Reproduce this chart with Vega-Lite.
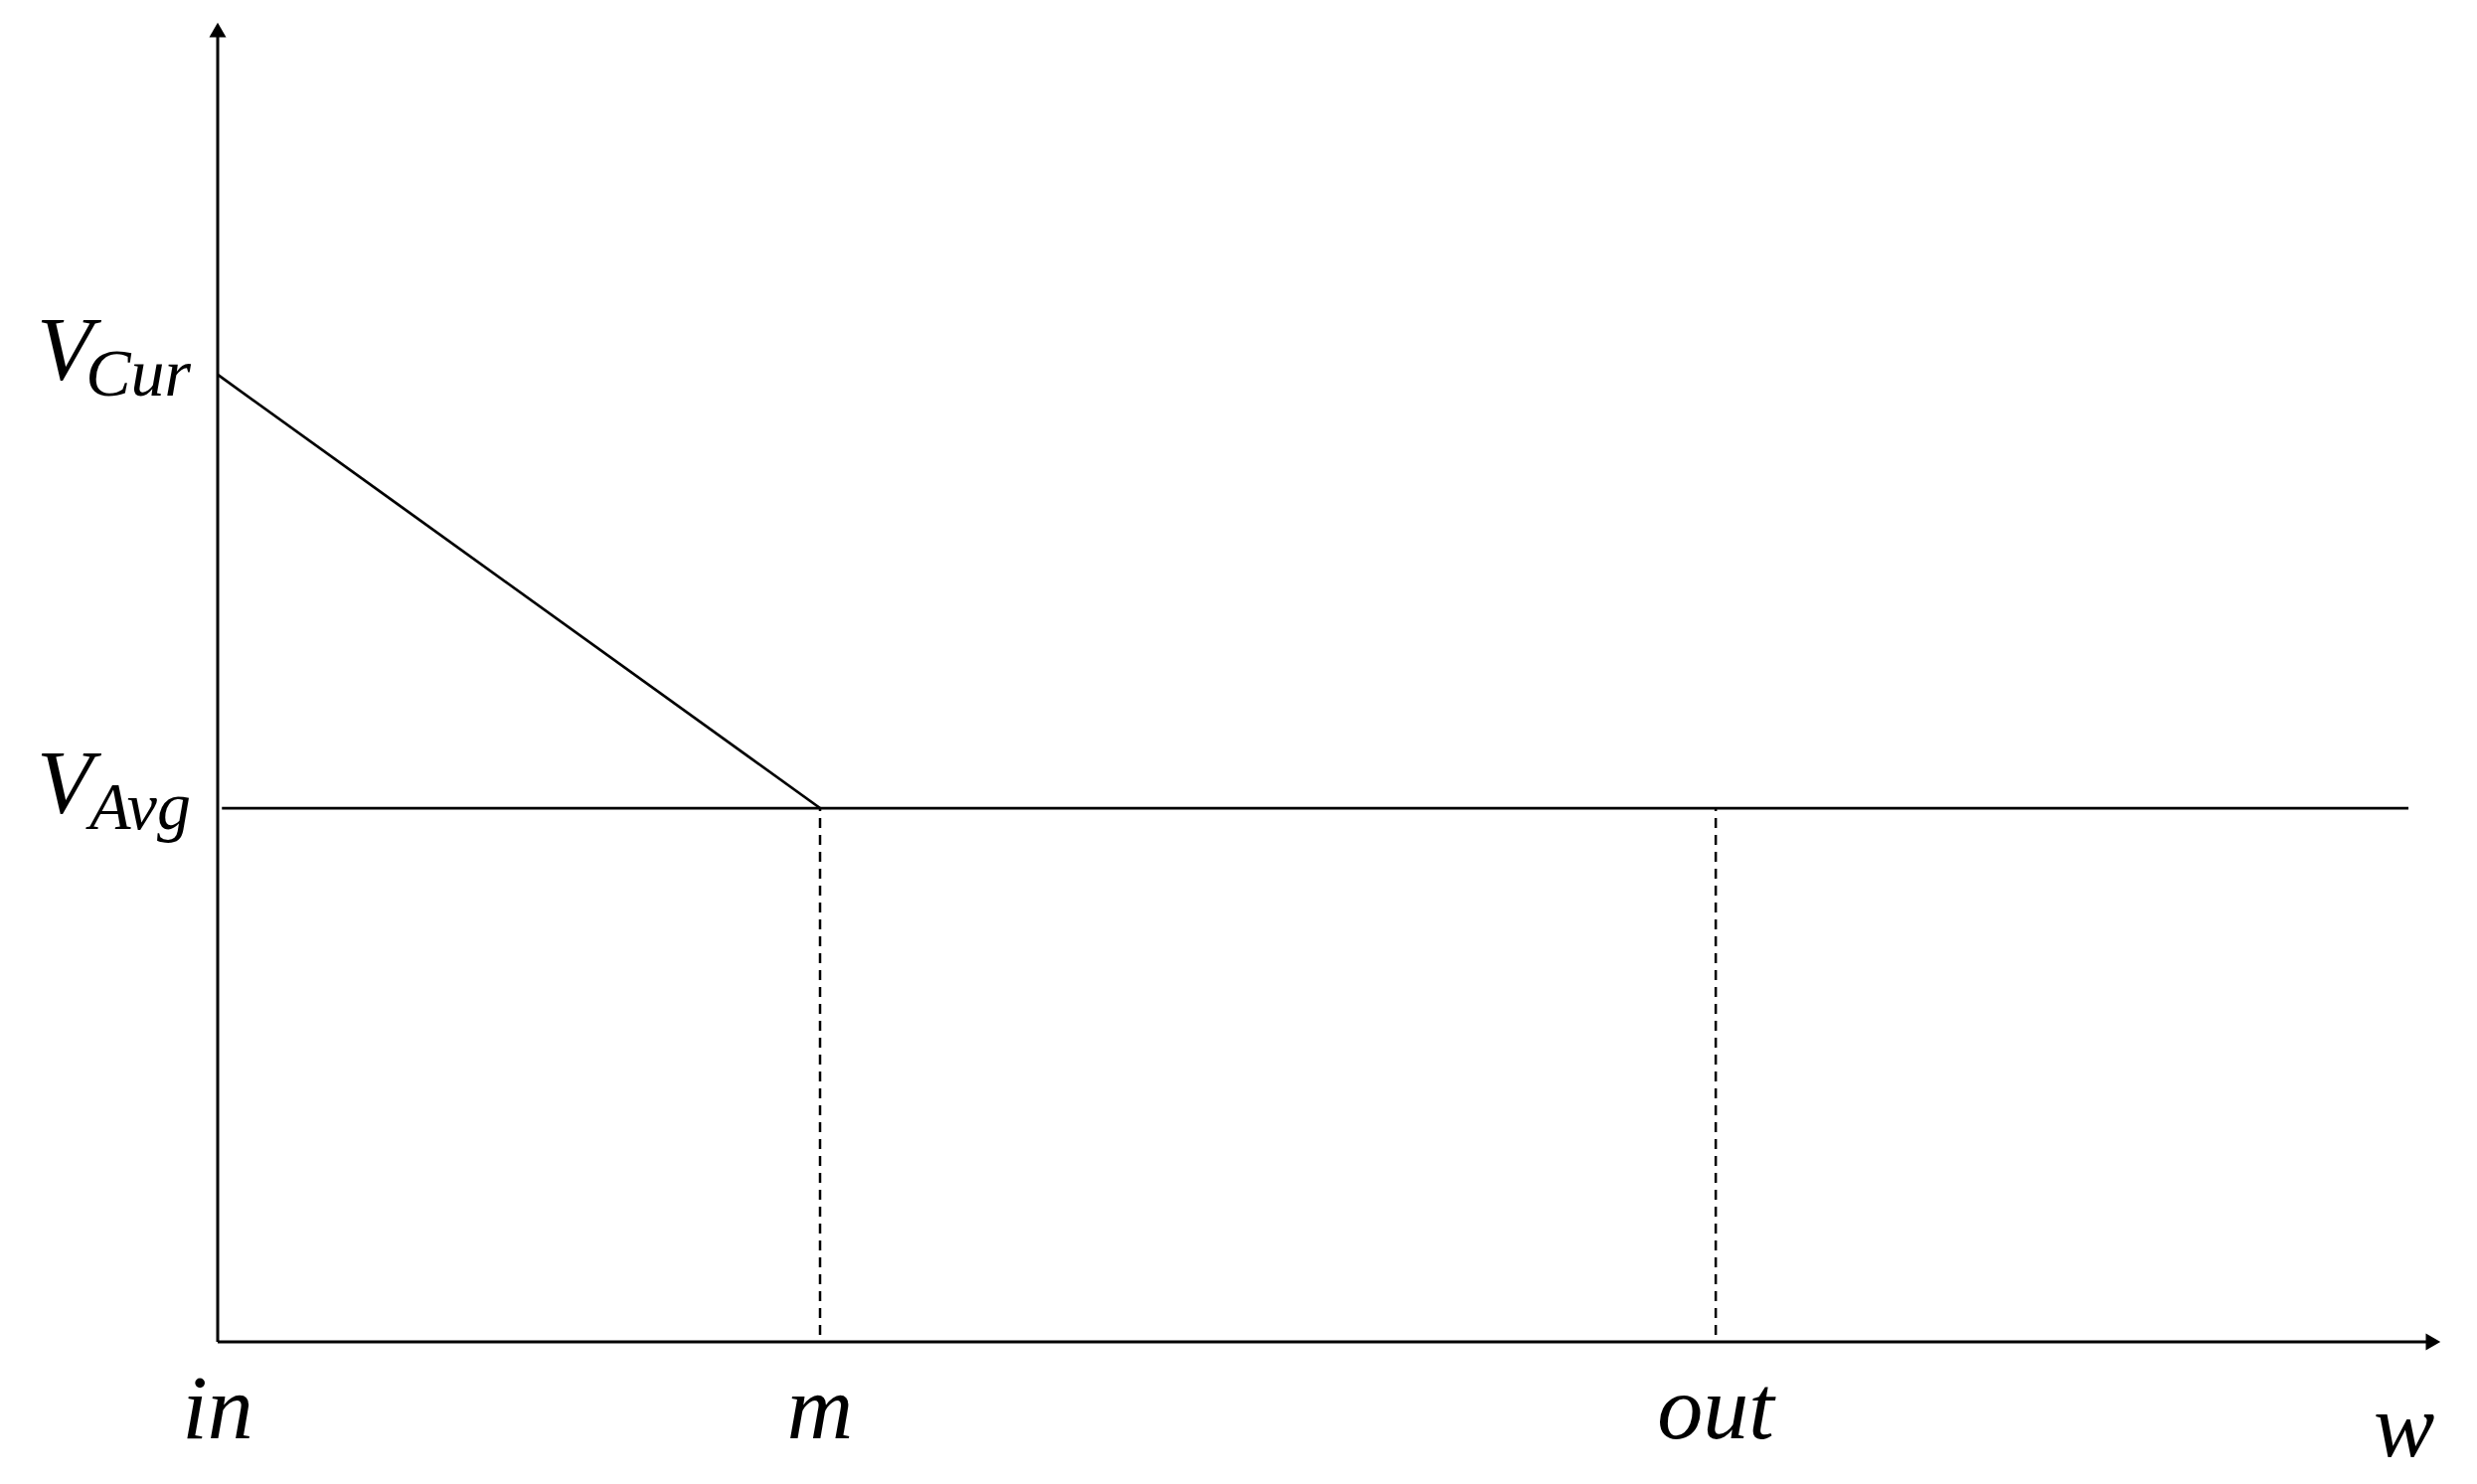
{
  "$schema": "https://vega.github.io/schema/vega-lite/v6.json",
  "width": 2492,
  "height": 1493,
  "autosize": {"type": "fit", "contains": "padding"},
  "padding": 0,
  "background": "white",
  "config": {"view": {"stroke": null}},
  "datasets": {
    "axes": [{"w": 0, "v": 0, "w2": 0, "v2": 24.58}, {"w": 0, "v": 0, "w2": 36.78, "v2": 0}],
    "arrows": [{"w": 0, "v": 24.58, "shape": "triangle-up"}, {"w": 36.78, "v": 0, "shape": "triangle-right"}],
    "curve": [{"w": 0, "v": 18.12, "w2": 10, "v2": 10}, {"w": 0.07, "v": 10, "w2": 36.37, "v2": 10}],
    "guides": [{"w": 10, "v": 0.13, "v2": 10}, {"w": 24.87, "v": 0.13, "v2": 10}],
    "xlabels": [{"w": 0, "v": 0, "label": "in"}, {"w": 10, "v": 0, "label": "m"}, {"w": 24.87, "v": 0, "label": "out"}],
    "wlabel": [{"w": 36.3, "v": 0, "label": "w"}],
    "vlabels": [{"w": 0, "v": 18.12, "main": "V", "sub": "Cur"}, {"w": 0, "v": 10, "main": "V", "sub": "Avg"}]
  },
  "layer": [
    {
      "data": {"name": "axes"},
      "mark": {"type": "rule", "color": "black", "strokeWidth": 3},
      "encoding": {
        "x": {"field": "w", "type": "quantitative", "scale": {"domain": [-3.614, 37.508], "nice": false, "zero": false}, "axis": null},
        "y": {"field": "v", "type": "quantitative", "scale": {"domain": [-2.663, 25.14], "nice": false, "zero": false}, "axis": null},
        "x2": {"field": "w2"}, "y2": {"field": "v2"}
      }
    },
    {
      "data": {"name": "arrows"},
      "mark": {"type": "point", "filled": true, "color": "black", "opacity": 1, "size": 289, "strokeWidth": 0},
      "encoding": {
        "x": {"field": "w", "type": "quantitative", "scale": {"domain": [-3.614, 37.508], "nice": false, "zero": false}, "axis": null},
        "y": {"field": "v", "type": "quantitative", "scale": {"domain": [-2.663, 25.14], "nice": false, "zero": false}, "axis": null},
        "shape": {"field": "shape", "type": "nominal", "scale": null}
      }
    },
    {
      "data": {"name": "curve"},
      "mark": {"type": "rule", "color": "black", "strokeWidth": 2.75},
      "encoding": {
        "x": {"field": "w", "type": "quantitative", "scale": {"domain": [-3.614, 37.508], "nice": false, "zero": false}, "axis": null},
        "y": {"field": "v", "type": "quantitative", "scale": {"domain": [-2.663, 25.14], "nice": false, "zero": false}, "axis": null},
        "x2": {"field": "w2"}, "y2": {"field": "v2"}
      }
    },
    {
      "data": {"name": "guides"},
      "mark": {"type": "rule", "color": "black", "strokeWidth": 2.5, "strokeDash": [10, 7]},
      "encoding": {
        "x": {"field": "w", "type": "quantitative", "scale": {"domain": [-3.614, 37.508], "nice": false, "zero": false}, "axis": null},
        "y": {"field": "v", "type": "quantitative", "scale": {"domain": [-2.663, 25.14], "nice": false, "zero": false}, "axis": null},
        "y2": {"field": "v2"}
      }
    },
    {
      "data": {"name": "xlabels"},
      "mark": {"type": "text", "font": "Liberation Serif", "fontStyle": "italic", "fontSize": 92, "align": "center", "baseline": "alphabetic", "dy": 97, "color": "black"},
      "encoding": {
        "x": {"field": "w", "type": "quantitative", "scale": {"domain": [-3.614, 37.508], "nice": false, "zero": false}, "axis": null},
        "y": {"field": "v", "type": "quantitative", "scale": {"domain": [-2.663, 25.14], "nice": false, "zero": false}, "axis": null},
        "text": {"field": "label", "type": "nominal"}
      }
    },
    {
      "data": {"name": "wlabel"},
      "mark": {"type": "text", "font": "Liberation Serif", "fontStyle": "italic", "fontSize": 92, "align": "center", "baseline": "alphabetic", "dy": 115, "color": "black"},
      "encoding": {
        "x": {"field": "w", "type": "quantitative", "scale": {"domain": [-3.614, 37.508], "nice": false, "zero": false}, "axis": null},
        "y": {"field": "v", "type": "quantitative", "scale": {"domain": [-2.663, 25.14], "nice": false, "zero": false}, "axis": null},
        "text": {"field": "label", "type": "nominal"}
      }
    },
    {
      "data": {"name": "vlabels"},
      "mark": {"type": "text", "font": "Liberation Serif", "fontStyle": "italic", "fontSize": 92, "align": "left", "baseline": "alphabetic", "dx": -182, "dy": 5, "color": "black"},
      "encoding": {
        "x": {"field": "w", "type": "quantitative", "scale": {"domain": [-3.614, 37.508], "nice": false, "zero": false}, "axis": null},
        "y": {"field": "v", "type": "quantitative", "scale": {"domain": [-2.663, 25.14], "nice": false, "zero": false}, "axis": null},
        "text": {"field": "main", "type": "nominal"}
      }
    },
    {
      "data": {"name": "vlabels"},
      "mark": {"type": "text", "font": "Liberation Serif", "fontStyle": "italic", "fontSize": 68, "align": "right", "baseline": "alphabetic", "dx": -27, "dy": 21, "color": "black"},
      "encoding": {
        "x": {"field": "w", "type": "quantitative", "scale": {"domain": [-3.614, 37.508], "nice": false, "zero": false}, "axis": null},
        "y": {"field": "v", "type": "quantitative", "scale": {"domain": [-2.663, 25.14], "nice": false, "zero": false}, "axis": null},
        "text": {"field": "sub", "type": "nominal"}
      }
    }
  ]
}
